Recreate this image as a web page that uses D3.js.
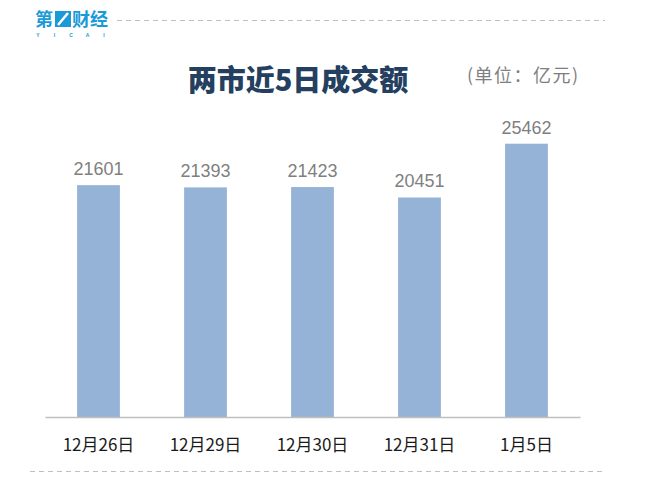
<!DOCTYPE html>
<html lang="zh">
  <head>
    <meta charset="utf-8">
    <script type="text/javascript" src="https://cdn.jsdelivr.net/npm/d3@7/dist/d3.min.js"></script>
    <style>
      body { margin: 0; background: #fff; }
      svg { display: block; }
    </style>
  </head>
  <body>
    <svg id="chart"></svg>
  </body>
  <script type="text/javascript">

    var dates = ['12月26日', '12月29日', '12月30日', '12月31日', '1月5日'];
    var turnover = [21601, 21393, 21423, 20451, 25462];

    var width = 645;
    var height = 494;
    var cjk = '"Noto Sans CJK SC", "Microsoft YaHei", sans-serif';

    var svg = d3.select('#chart')
      .attr('width', width)
      .attr('height', height);

    // logo
    var logo = svg.append('g');
    logo.append('text')
      .attr('x', 35).attr('y', 26)
      .attr('font-family', cjk).attr('font-size', 18).attr('font-weight', 'bold')
      .attr('fill', '#1b9ad8')
      .text('第');
    logo.append('rect')
      .attr('x', 55).attr('y', 11).attr('width', 16).attr('height', 16)
      .attr('fill', '#1b9ad8');
    logo.append('path')
      .attr('d', 'M58,25 L68,13')
      .attr('stroke', '#fff').attr('stroke-width', 2.5);
    logo.append('text')
      .attr('x', 72).attr('y', 26)
      .attr('font-family', cjk).attr('font-size', 18).attr('font-weight', 'bold')
      .attr('fill', '#1b9ad8')
      .text('财经');
    logo.selectAll('text.yicai')
      .data(['Y', 'I', 'C', 'A', 'I']).enter()
      .append('text')
      .attr('class', 'yicai')
      .attr('x', function(d, i) { return 38 + i * 16.5; })
      .attr('y', 37)
      .attr('text-anchor', 'middle')
      .attr('font-family', 'Liberation Sans, Arial, sans-serif')
      .attr('font-size', 5).attr('font-weight', 'bold')
      .attr('fill', '#1b9ad8')
      .text(function(d) { return d; });

    // dashed rules
    svg.append('line')
      .attr('x1', 117).attr('x2', 605).attr('y1', 20.5).attr('y2', 20.5)
      .attr('stroke', '#bfbfbf').attr('stroke-dasharray', '5,4');
    svg.append('line')
      .attr('x1', 30).attr('x2', 605).attr('y1', 471.5).attr('y2', 471.5)
      .attr('stroke', '#bfbfbf').attr('stroke-dasharray', '5,4');

    // titles
    svg.append('text')
      .attr('x', 298).attr('y', 91)
      .attr('text-anchor', 'middle')
      .attr('font-family', cjk).attr('font-size', 29).attr('font-weight', 900)
      .attr('fill', '#243f60')
      .text('两市近5日成交额');
    svg.append('text')
      .attr('x', 467).attr('y', 82)
      .attr('font-family', cjk).attr('font-size', 18)
      .attr('letter-spacing', 1.5)
      .attr('fill', '#7f7f7f')
      .text('(单位：亿元)');

    var x = d3.scaleBand()
      .domain(dates)
      .range([45, 580])
      .paddingInner(0.6)
      .paddingOuter(0.3);

    var y = d3.scaleLinear()
      .domain([0, 30000])
      .range([417, 95]);

    svg.selectAll('rect.bar')
      .data(turnover).enter()
      .append('rect')
      .attr('class', 'bar')
      .attr('x', function(d, i) { return x(dates[i]); })
      .attr('y', function(d) { return y(d); })
      .attr('width', x.bandwidth())
      .attr('height', function(d) { return y(0) - y(d); })
      .attr('fill', '#95b3d7');

    svg.selectAll('text.val')
      .data(turnover).enter()
      .append('text')
      .attr('class', 'val')
      .attr('x', function(d, i) { return x(dates[i]) + x.bandwidth() / 2; })
      .attr('y', function(d) { return y(d) - 10; })
      .attr('text-anchor', 'middle')
      .attr('font-family', '"Liberation Sans", Arial, sans-serif')
      .attr('font-size', 18)
      .attr('fill', '#7f7f7f')
      .text(function(d) { return d; });

    var xAxis = svg.append('g')
      .attr('transform', 'translate(0,417)')
      .call(d3.axisBottom(x).tickSize(0).tickPadding(0));
    xAxis.select('.domain')
      .attr('stroke', '#bfbfbf').attr('stroke-width', 1.3);
    xAxis.selectAll('text')
      .attr('y', 34)
      .attr('dy', 0)
      .attr('font-family', cjk).attr('font-size', 17)
      .attr('fill', '#1a1a1a');

  </script>
</html>
